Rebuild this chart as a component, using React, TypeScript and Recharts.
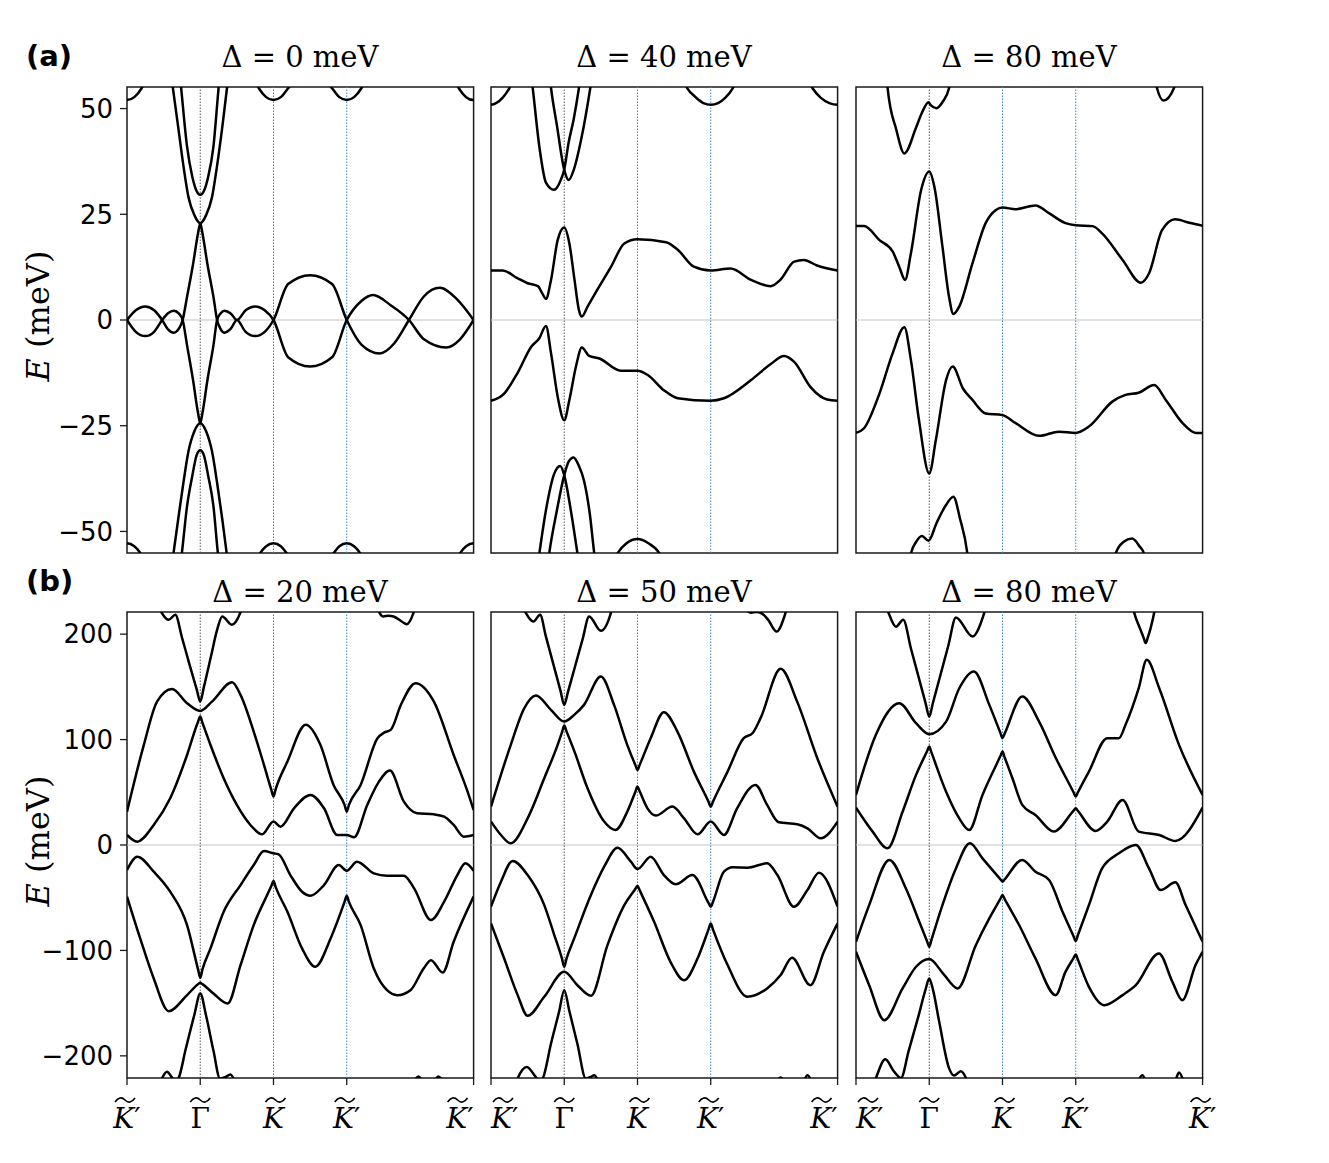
import React from "react";
import { LineChart, Line, XAxis, YAxis, ReferenceLine, ReferenceArea } from "recharts";

type Pt = [number, number];

// path coordinate of the high-symmetry points K' – Γ – K – K' – K'
const XMAX = 4.732;
const X_TICKS = [0, 1, 2, 3, XMAX];
const X_LABELS = ["K′", "Γ", "K", "K′", "K′"];
const Y_TICKS_A = [-50, -25, 0, 25, 50];
const Y_TICKS_B = [-200, -100, 0, 100, 200];
const DELTAS_A = [0, 40, 80];
const DELTAS_B = [20, 50, 80];

// ---- (a) Δ = 0 meV ----
const a0Bands: Pt[][] = [
  [[0, 0], [0.12, 2.3], [0.25, 3.2], [0.37, 2.3], [0.48, 0], [0.56, -2.2], [0.64, -3.0], [0.71, -2.0], [0.76, 0], [0.82, 5.5], [0.9, 13], [0.97, 20.5], [1, 22.9], [1.03, 20.5], [1.1, 13], [1.18, 5.5], [1.23, 0], [1.28, -2.2], [1.33, -3.0], [1.42, -2], [1.5, 0], [1.62, -2.8], [1.75, -3.8], [1.88, -2.8], [2, 0], [2.2, 8.5], [2.5, 10.6], [2.8, 8.5], [3, 0], [3.2, -5.8], [3.45, -7.9], [3.65, -5.5], [3.85, 0], [4.05, 5.5], [4.27, 7.6], [4.5, 5], [4.732, 0]],
  [[0, 0], [0.12, -2.8], [0.25, -3.8], [0.37, -2.8], [0.48, 0], [0.56, 1.6], [0.64, 2.2], [0.71, 1.5], [0.76, 0], [0.82, -6], [0.9, -14], [0.97, -22], [1, -24.4], [1.03, -22], [1.1, -14], [1.18, -6], [1.23, 0], [1.28, 1.6], [1.33, 2.2], [1.42, 1.5], [1.5, 0], [1.62, 2.3], [1.75, 3.2], [1.88, 2.3], [2, 0], [2.2, -8.8], [2.5, -11], [2.8, -8.8], [3, 0], [3.2, 4.5], [3.36, 5.9], [3.6, 3.5], [3.85, 0], [4.05, -4.5], [4.36, -6.5], [4.55, -4.5], [4.732, 0]],
  [[0.57, 62], [0.627, 54.8], [0.7, 45.5], [0.77, 36.5], [0.84, 29], [0.92, 24.8], [1, 22.9], [1.08, 24.8], [1.16, 29], [1.23, 36.5], [1.3, 45.5], [1.365, 54.8], [1.42, 62]],
  [[0.7, 62], [0.74, 54.8], [0.82, 41], [0.89, 34], [0.95, 30.5], [1, 29.6], [1.05, 30.5], [1.11, 34], [1.18, 41], [1.25, 54.8], [1.29, 62]],
  [[0.58, -62], [0.636, -55], [0.7, -47], [0.77, -38.5], [0.84, -31], [0.92, -26.3], [1, -24.4], [1.08, -26.3], [1.16, -31], [1.23, -38.5], [1.3, -47], [1.36, -55], [1.42, -62]],
  [[0.7, -62], [0.75, -55], [0.82, -44], [0.89, -37], [0.95, -32], [1, -30.8], [1.05, -32], [1.11, -37], [1.18, -44], [1.24, -55], [1.29, -62]],
  [[-0.35, 60.5], [-0.2, 54.8], [-0.1, 52.7], [0, 52], [0.1, 52.7], [0.2, 54.8], [0.35, 60.5], [1.65, 60.5], [1.8, 54.8], [1.9, 52.7], [2, 52], [2.1, 52.7], [2.2, 54.8], [2.5, 61], [2.8, 54.8], [2.9, 52.7], [3, 52], [3.1, 52.7], [3.2, 54.8], [3.35, 60.5], [4.38, 60.5], [4.53, 54.8], [4.63, 52.7], [4.732, 52], [4.83, 52.7]],
  [[-0.35, -61.3], [-0.2, -55.6], [-0.1, -53.5], [0, -52.8], [0.1, -53.5], [0.2, -55.6], [0.35, -61.3], [1.65, -61.3], [1.8, -55.6], [1.9, -53.5], [2, -52.8], [2.1, -53.5], [2.2, -55.6], [2.5, -62], [2.8, -55.6], [2.9, -53.5], [3, -52.8], [3.1, -53.5], [3.2, -55.6], [3.35, -61.3], [4.38, -61.3], [4.53, -55.6], [4.63, -53.5], [4.732, -52.8], [4.83, -53.5]],
];

// ---- (a) Δ = 40 meV ----
const a1Bands: Pt[][] = [
  [[0, 11.7], [0.16, 11.7], [0.36, 9.9], [0.5, 8.7], [0.64, 8.0], [0.7, 6.3], [0.75, 5.0], [0.82, 9.5], [0.91, 18.9], [1, 21.9], [1.07, 18.1], [1.14, 9.5], [1.2, 2.4], [1.24, 0.8], [1.32, 3.2], [1.45, 7.1], [1.64, 12.6], [1.82, 18.1], [2, 19.1], [2.39, 18.4], [2.55, 16.6], [2.77, 12.6], [3, 11.7], [3.27, 12.2], [3.55, 9.5], [3.82, 8.0], [3.95, 9.5], [4.14, 13.8], [4.27, 14.2], [4.45, 12.9], [4.732, 11.7]],
  [[0, -19.1], [0.18, -17.4], [0.36, -12.6], [0.55, -6.3], [0.66, -4.3], [0.75, -1.4], [0.82, -7.9], [0.91, -18.1], [1, -23.7], [1.07, -18.9], [1.16, -11], [1.24, -6.5], [1.34, -8.5], [1.48, -9.1], [1.77, -12], [2, -12], [2.14, -13], [2.36, -16.6], [2.55, -18.5], [3, -19.1], [3.18, -18.5], [3.55, -14.2], [3.82, -10.4], [4.0, -8.5], [4.14, -9.9], [4.36, -15.8], [4.59, -18.8], [4.732, -19.1]],
  [[0.52, 62], [0.57, 54.8], [0.66, 41], [0.75, 32.5], [0.86, 30.8], [0.95, 33], [1, 35.6], [1.06, 42], [1.127, 47.3], [1.2, 54.8], [1.25, 61]],
  [[0.78, 61], [0.82, 54.8], [0.9, 46], [1, 35.5], [1.06, 33.1], [1.13, 35.5], [1.23, 42.6], [1.355, 54.8], [1.4, 60]],
  [[0.62, -60], [0.66, -55.2], [0.75, -45], [0.86, -36.5], [0.945, -34.5], [1, -36.7], [1.08, -44], [1.18, -55.2], [1.22, -60]],
  [[0.76, -60], [0.795, -55.2], [0.9, -45], [1, -36.7], [1.06, -33.5], [1.127, -32.5], [1.2, -34.5], [1.27, -38], [1.35, -46], [1.41, -55.2], [1.45, -60]],
  [[-0.1, 51.4], [0, 50.9], [0.08, 51.4], [0.16, 52.6], [0.25, 54.8], [0.38, 60], [2.55, 60], [2.68, 54.8], [2.8, 52.6], [2.9, 51.3], [3, 50.9], [3.1, 51.3], [3.2, 52.6], [3.3, 54.8], [3.43, 60], [4.25, 60], [4.39, 54.8], [4.5, 52.6], [4.62, 51.3], [4.732, 50.9], [4.83, 51.4]],
  [[1.6, -60], [1.727, -55.2], [1.85, -52.8], [2, -51.8], [2.15, -52.8], [2.3, -55.2], [2.42, -60]],
];

// ---- (a) Δ = 80 meV ----
const a2Bands: Pt[][] = [
  [[0, 22.2], [0.11, 22.2], [0.32, 18.9], [0.5, 16.2], [0.59, 12.6], [0.67, 9.5], [0.75, 15.8], [0.89, 30.8], [1, 35.1], [1.07, 31.5], [1.18, 17.4], [1.27, 5.5], [1.33, 1.4], [1.41, 3.2], [1.59, 13.4], [1.77, 22.9], [1.91, 26], [2, 26.6], [2.18, 26.2], [2.45, 27.1], [2.64, 25.2], [2.86, 22.9], [3, 22.4], [3.23, 22.2], [3.36, 20.5], [3.64, 14.2], [3.89, 8.8], [4.0, 11], [4.18, 21.3], [4.36, 23.8], [4.55, 23], [4.732, 22.3]],
  [[0, -26.7], [0.11, -25.6], [0.32, -17.4], [0.5, -7.9], [0.66, -1.7], [0.75, -9.5], [0.86, -23.7], [1, -36.3], [1.09, -28.4], [1.23, -14.2], [1.32, -11], [1.46, -16.2], [1.59, -18.9], [1.77, -22.1], [2, -22.5], [2.18, -24.4], [2.5, -27.4], [2.77, -26.4], [3, -26.7], [3.18, -25.2], [3.5, -19.3], [3.68, -17.7], [3.86, -17.2], [4.07, -15.4], [4.23, -18.9], [4.46, -24.4], [4.64, -26.7], [4.732, -26.7]],
  [[0.4, 62], [0.432, 54.8], [0.55, 45], [0.66, 39.4], [0.82, 45.5], [0.9, 49], [0.99, 51.5], [1.02, 50.8], [1.1, 50.1], [1.18, 51.5], [1.27, 54.8], [1.32, 60]],
  [[4.05, 62], [4.11, 54.8], [4.2, 51.9], [4.34, 54.8], [4.4, 62]],
  [[0.72, -60], [0.75, -55.2], [0.82, -52.5], [0.9, -51.1], [0.99, -52.2], [1.1, -48], [1.22, -44], [1.33, -41.8], [1.42, -47], [1.52, -55.2], [1.55, -60]],
  [[3.5, -60], [3.545, -55.2], [3.65, -52.5], [3.77, -51.7], [3.87, -53.5], [3.93, -55.2], [3.97, -60]],
];

// ---- (b) Δ = 20 meV ----
const b0Bands: Pt[][] = [
  [[0.4, 232], [0.477, 220], [0.57, 213.6], [0.66, 218.4], [0.75, 197], [0.85, 172], [0.95, 148], [1, 136.1], [1.05, 150], [1.15, 180], [1.23, 204], [1.3, 216.8], [1.43, 208.9], [1.545, 220], [1.6, 232]],
  [[3.4, 232], [3.45, 220], [3.5, 216.8], [3.57, 217.5], [3.64, 216.8], [3.75, 212], [3.82, 209.5], [3.91, 220], [3.96, 232]],
  [[0, 31.6], [0.23, 95], [0.41, 136], [0.615, 148], [0.82, 134.5], [1, 127.2], [1.16, 136], [1.435, 154.4], [1.55, 142.4], [1.73, 107.6], [1.87, 76], [1.97, 52.5], [2, 45.9], [2.03, 53], [2.19, 79.1], [2.44, 114], [2.64, 95], [2.82, 57], [2.97, 38], [3, 31.6], [3.03, 38], [3.19, 57], [3.42, 101.3], [3.51, 106.6], [3.6, 109.2], [3.74, 133], [3.94, 153.5], [4.19, 136], [4.46, 85.4], [4.65, 50.6], [4.732, 33.2]],
  [[0, 9.5], [0.14, 3.2], [0.365, 19], [0.59, 44.3], [0.82, 85.4], [0.97, 117], [1, 121.8], [1.03, 116], [1.14, 94.9], [1.32, 63.3], [1.5, 38], [1.685, 19], [1.845, 10.1], [2, 22.2], [2.095, 17.4], [2.28, 34.8], [2.505, 47.5], [2.69, 34.8], [2.87, 9.5], [3, 9.5], [3.1, 7.3], [3.28, 38], [3.44, 60.1], [3.59, 70.6], [3.78, 41.1], [3.96, 30.1], [4.19, 29.1], [4.33, 26.9], [4.46, 19], [4.6, 7.9], [4.732, 9.5]],
  [[0, -23.7], [0.14, -11.1], [0.365, -25.3], [0.59, -44.3], [0.82, -76], [0.97, -118], [1, -126], [1.03, -118], [1.14, -98], [1.32, -63.3], [1.55, -38], [1.73, -19], [1.87, -5.7], [2, -7.9], [2.07, -8.9], [2.23, -28.5], [2.39, -44.3], [2.505, -48.1], [2.69, -38], [2.89, -19], [3, -24.4], [3.14, -15.8], [3.37, -26.9], [3.55, -29.1], [3.78, -29.1], [3.92, -41.1], [4.15, -71.2], [4.33, -53.8], [4.51, -28.5], [4.62, -17.4], [4.732, -24.4]],
  [[0, -49], [0.18, -88.6], [0.365, -126.6], [0.57, -157.6], [0.82, -142.4], [0.97, -132], [1, -130.7], [1.03, -132], [1.18, -140.8], [1.375, -150.3], [1.55, -113.9], [1.73, -76], [1.97, -39], [2, -34.2], [2.03, -40], [2.19, -63.3], [2.39, -98.1], [2.57, -115.5], [2.78, -88.6], [2.97, -54], [3, -48.1], [3.03, -54], [3.19, -76], [3.37, -117.1], [3.55, -137.7], [3.69, -142.4], [3.87, -137.7], [4.05, -117.1], [4.15, -109.2], [4.31, -120.9], [4.46, -91.8], [4.732, -49]],
  [[0.4, -235], [0.477, -221.5], [0.545, -215], [0.62, -221], [0.66, -224], [0.705, -221], [0.8, -194], [0.92, -161], [1, -140.8], [1.08, -162], [1.18, -195], [1.27, -221.5], [1.35, -220], [1.41, -217.7], [1.48, -225]],
  [[3.9, -226], [3.98, -219.5], [4.06, -226], [4.17, -226], [4.25, -219.5], [4.33, -226]],
];

// ---- (b) Δ = 50 meV ----
const b1Bands: Pt[][] = [
  [[0.4, 232], [0.477, 220], [0.58, 212], [0.67, 218.4], [0.75, 197.7], [0.85, 171.8], [0.95, 146], [1, 132.9], [1.05, 145], [1.15, 170], [1.25, 195], [1.34, 216.8], [1.5, 203.2], [1.636, 220], [1.68, 232]],
  [[3.5, 222], [3.55, 220.3], [3.62, 221], [3.7, 219.5], [3.78, 214], [3.9, 202.5], [4.02, 220], [4.07, 232]],
  [[0, 36.4], [0.27, 95], [0.455, 129.8], [0.614, 141.8], [0.818, 128.2], [1, 117.1], [1.136, 123.4], [1.27, 132.9], [1.5, 159.8], [1.68, 132.9], [1.86, 95], [1.97, 76], [2, 71.2], [2.03, 76], [2.18, 101.3], [2.36, 126], [2.545, 107.6], [2.77, 69.6], [2.97, 41], [3, 36.4], [3.03, 41], [3.23, 69.6], [3.45, 101.3], [3.57, 106], [3.68, 120.3], [3.955, 167.1], [4.18, 136], [4.455, 82.3], [4.732, 36.4]],
  [[0, 22.2], [0.136, 9.5], [0.27, 1.6], [0.5, 25.3], [0.727, 63.3], [0.91, 95], [0.97, 107], [1, 113.3], [1.03, 108], [1.14, 88.6], [1.318, 53.8], [1.545, 22.2], [1.7, 14.2], [1.86, 31.6], [1.97, 50.3], [2, 55.4], [2.03, 50.9], [2.136, 34.8], [2.25, 27.9], [2.477, 36.4], [2.636, 25.3], [2.82, 10.1], [3, 22.2], [3.18, 9.5], [3.36, 34.8], [3.61, 57], [3.77, 38], [3.93, 21.5], [4.18, 19.6], [4.32, 15.8], [4.5, 6.3], [4.732, 22.2]],
  [[0, -58.5], [0.136, -34.8], [0.295, -15.2], [0.5, -28.5], [0.727, -57], [0.864, -85.4], [0.97, -108], [1, -115.5], [1.03, -108], [1.136, -88.6], [1.364, -47.5], [1.545, -20.6], [1.727, -2.5], [1.91, -15.8], [2, -22.8], [2.18, -11.1], [2.36, -28.5], [2.52, -37.3], [2.75, -28.5], [2.97, -55], [3, -58.5], [3.03, -54], [3.18, -25.3], [3.3, -21.2], [3.5, -21.5], [3.77, -17.4], [3.91, -28.5], [4.136, -58.5], [4.32, -42.7], [4.477, -26.3], [4.732, -58.5]],
  [[0, -74.4], [0.18, -107.6], [0.364, -142.4], [0.5, -162], [0.727, -144], [1, -120.3], [1.18, -133], [1.364, -143], [1.59, -95], [1.82, -57], [1.97, -41.7], [2, -38.6], [2.03, -43], [2.227, -72.8], [2.45, -110.8], [2.636, -128.2], [2.82, -107.6], [2.97, -80], [3, -74.4], [3.03, -80], [3.23, -113.9], [3.5, -144], [3.77, -136], [3.955, -123.4], [4.11, -107], [4.36, -133], [4.545, -101.3], [4.732, -74.4]],
  [[0.3, -235], [0.364, -221.5], [0.49, -210.5], [0.6, -219], [0.66, -224], [0.705, -221.5], [0.82, -188], [0.93, -158], [1, -137.7], [1.07, -157.6], [1.18, -188.8], [1.295, -221.5], [1.36, -220], [1.41, -218.5], [1.47, -225]],
  [[3.88, -226], [3.955, -220.5], [4.03, -226], [4.25, -226], [4.32, -218.4], [4.39, -226]],
];

// ---- (b) Δ = 80 meV ----
const b2Bands: Pt[][] = [
  [[0.38, 232], [0.445, 220], [0.545, 207], [0.645, 213.6], [0.75, 186.4], [0.85, 160.5], [0.95, 134.6], [1, 121.8], [1.05, 134.7], [1.15, 160.5], [1.26, 189], [1.364, 215.8], [1.59, 197.8], [1.75, 220], [1.8, 232]],
  [[3.76, 232], [3.8, 220], [3.88, 205], [3.93, 196], [3.955, 191.5], [3.98, 196], [4.02, 205], [4.07, 220], [4.1, 232]],
  [[0, 47.5], [0.27, 104.4], [0.59, 134.5], [0.82, 115.5], [1, 105.1], [1.23, 117], [1.41, 148.7], [1.61, 164.6], [1.82, 132.9], [1.97, 106.6], [2, 101.3], [2.03, 105.7], [2.27, 140.8], [2.5, 117], [2.73, 82.3], [2.97, 50], [3, 45.9], [3.03, 50], [3.18, 69.6], [3.43, 101.3], [3.59, 101.3], [3.68, 114], [3.86, 148.7], [3.97, 175.6], [4.14, 148.7], [4.41, 95], [4.732, 47.5]],
  [[0, 35.4], [0.227, 12.7], [0.43, -3.2], [0.636, 31.6], [0.82, 66.5], [0.97, 88.9], [1, 93.4], [1.03, 87.8], [1.23, 50.6], [1.41, 25.3], [1.545, 14.2], [1.727, 47.5], [1.97, 84.1], [2, 88.6], [2.03, 83], [2.136, 63.3], [2.27, 38], [2.45, 28.5], [2.7, 12.7], [2.97, 32.6], [3, 34.8], [3.03, 32.4], [3.27, 13.3], [3.43, 22.2], [3.64, 42.7], [3.86, 12.7], [4.14, 9.5], [4.36, 3.8], [4.732, 35.4]],
  [[0, -91.8], [0.18, -57], [0.455, -14.2], [0.68, -41.1], [0.864, -72.8], [0.97, -91.3], [1, -96.5], [1.03, -89.9], [1.18, -57], [1.364, -22.2], [1.555, 1.6], [1.727, -12.7], [1.97, -32.4], [2, -34.8], [2.03, -32.5], [2.27, -14.2], [2.45, -25.3], [2.636, -33.2], [2.82, -63.3], [2.97, -86.5], [3, -91.1], [3.03, -85.4], [3.18, -57], [3.36, -22.2], [3.59, -7.9], [3.82, 0], [4.0, -22.2], [4.16, -42.7], [4.36, -35.4], [4.5, -57], [4.732, -91.8]],
  [[0, -101.3], [0.18, -133], [0.386, -166.2], [0.636, -136], [0.82, -115.5], [1, -108.2], [1.19, -121.9], [1.386, -136], [1.636, -95], [1.82, -69.6], [1.97, -51.2], [2, -47.5], [2.03, -51.3], [2.227, -75.9], [2.45, -107.6], [2.727, -142.4], [2.86, -120.3], [2.97, -107.3], [3, -103.8], [3.03, -108.9], [3.18, -134.5], [3.39, -151.9], [3.64, -142.4], [3.82, -133], [4.136, -102.9], [4.32, -129.8], [4.455, -147.2], [4.636, -113.9], [4.732, -101.3]],
  [[0.2, -235], [0.27, -221.5], [0.4, -203.2], [0.52, -215], [0.614, -221], [0.72, -195], [0.85, -163], [0.95, -137], [1, -126.6], [1.05, -137], [1.136, -167.7], [1.27, -211.6], [1.34, -218.7], [1.43, -214.6], [1.5, -221], [1.55, -232]],
  [[3.84, -226], [3.91, -218.4], [3.98, -226], [4.34, -226], [4.41, -215.8], [4.48, -226]],
];

const BANDS_A = [a0Bands, a1Bands, a2Bands];
const BANDS_B = [b0Bands, b1Bands, b2Bands];

// layout (page pixels)
const COL_X = [126.7, 490.7, 855.7];
const ROW_Y = [87.3, 612.3];
const PLOT_W = 346.6;
const PLOT_H = 466;
const YW = 100;
const MT = 10;
const MR = 40;
const XH = 60;
const FRAME = "#1a1a1a";
const SERIF = "'DejaVu Serif', serif";
const SANS = "'DejaVu Sans', sans-serif";

const fmtY = (v: number) => (v < 0 ? `\u2212${Math.abs(v)}` : `${v}`);

// end labels of neighbouring panels are pushed apart, as in the figure
function anchorFor(col: number, index: number): "start" | "middle" | "end" {
  if (index === 0 && col > 0) return "start";
  if (index === X_TICKS.length - 1 && col < 2) return "end";
  return "middle";
}

function KTick(props: any) {
  const { x, index, col } = props;
  const label = X_LABELS[index] ?? "";
  const isGamma = label === "Γ";
  const prime = label.endsWith("′");
  const anchor = anchorFor(col, index);
  const base = MT + PLOT_H + 50;
  const t = MT + PLOT_H + 19;
  let cx = x;
  if (!isGamma) {
    if (anchor === "start") cx = x + 12;
    else if (anchor === "end") cx = x - 16;
    else cx = prime ? x - 2 : x + 2;
  }
  const tilde = `M ${cx - 10} ${t + 5} Q ${cx - 5} ${t - 2} ${cx} ${t + 3} T ${cx + 10} ${t + 1}`;
  return (
    <g>
      <path d={tilde} fill="none" stroke="#000" strokeWidth={1.6} />
      <text x={x} y={base} textAnchor={anchor} fontFamily={SERIF} fontSize={28} fill="#000">
        {isGamma ? "Γ" : <tspan fontStyle="italic">K</tspan>}
        {prime ? <tspan>′</tspan> : null}
      </text>
    </g>
  );
}

function Panel({ bands, row, col }: { bands: Pt[][]; row: number; col: number }) {
  const ymax = row === 0 ? 55.1 : 221;
  const yTicks = row === 0 ? Y_TICKS_A : Y_TICKS_B;
  return (
    <div style={{ position: "absolute", left: COL_X[col] - YW, top: ROW_Y[row] - MT }}>
      <LineChart
        width={YW + PLOT_W + MR}
        height={MT + PLOT_H + XH}
        margin={{ top: MT, right: MR, bottom: 0, left: 0 }}
      >
        <XAxis
          type="number"
          dataKey="x"
          domain={[0, XMAX]}
          ticks={X_TICKS}
          allowDataOverflow
          interval={0}
          axisLine={false}
          tickLine={{ stroke: FRAME, strokeWidth: 1.3 }}
          tickSize={7}
          height={XH}
          tick={row === 1 ? (p: any) => <KTick {...p} col={col} /> : false}
        />
        <YAxis
          type="number"
          domain={[-ymax, ymax]}
          ticks={yTicks}
          allowDataOverflow
          interval={0}
          axisLine={false}
          tickLine={{ stroke: FRAME, strokeWidth: 1.3 }}
          tickSize={7}
          tickMargin={7}
          width={YW}
          tickFormatter={fmtY}
          tick={col === 0 ? { fontSize: 26, fill: "#000", fontFamily: SANS } : false}
        />
        <ReferenceLine y={0} stroke="#c4c4c4" strokeWidth={1.2} />
        <ReferenceLine x={1} stroke="#555" strokeWidth={1} strokeDasharray="1.5 1.5" />
        <ReferenceLine x={2} stroke="#3a86c8" strokeWidth={1} strokeDasharray="1.5 1.5" />
        <ReferenceLine x={3} stroke="#3a86c8" strokeWidth={1} strokeDasharray="1.5 1.5" />
        {bands.map((band, i) => (
          <Line
            key={i}
            data={band.map(([x, y]) => ({ x, y }))}
            dataKey="y"
            type="monotoneX"
            stroke="#000"
            strokeWidth={2.5}
            dot={false}
            activeDot={false}
            isAnimationActive={false}
          />
        ))}
        <ReferenceArea
          x1={0}
          x2={XMAX}
          y1={-ymax}
          y2={ymax}
          fill="none"
          fillOpacity={0}
          stroke={FRAME}
          strokeWidth={1.5}
          ifOverflow="visible"
        />
      </LineChart>
    </div>
  );
}

export default function App() {
  const titles = [
    ...DELTAS_A.map((d, c) => ({ d, c, y: 67 })),
    ...DELTAS_B.map((d, c) => ({ d, c, y: 602 })),
  ];
  return (
    <div style={{ position: "absolute", left: 0, top: 0, width: 1329, height: 1163, background: "#fff" }}>
      {BANDS_A.map((b, c) => (
        <Panel key={`a${c}`} bands={b} row={0} col={c} />
      ))}
      {BANDS_B.map((b, c) => (
        <Panel key={`b${c}`} bands={b} row={1} col={c} />
      ))}
      <svg width={1329} height={1163} style={{ position: "absolute", left: 0, top: 0, pointerEvents: "none" }}>
        {titles.map((t, i) => (
          <text
            key={i}
            x={COL_X[t.c] + PLOT_W / 2}
            y={t.y}
            textAnchor="middle"
            fontFamily={SERIF}
            fontSize={29}
            fill="#000"
          >
            {`Δ = ${t.d} meV`}
          </text>
        ))}
        <text x={26} y={66} fontFamily={SANS} fontWeight="bold" fontSize={29} fill="#000">
          (a)
        </text>
        <text x={26} y={591} fontFamily={SANS} fontWeight="bold" fontSize={29} fill="#000">
          (b)
        </text>
        {[316, 841].map((cy, i) => (
          <text
            key={i}
            x={49}
            y={cy}
            transform={`rotate(-90, 49, ${cy})`}
            textAnchor="middle"
            fontFamily={SERIF}
            fontSize={32}
            fill="#000"
          >
            <tspan fontStyle="italic">E</tspan> (meV)
          </text>
        ))}
      </svg>
    </div>
  );
}
